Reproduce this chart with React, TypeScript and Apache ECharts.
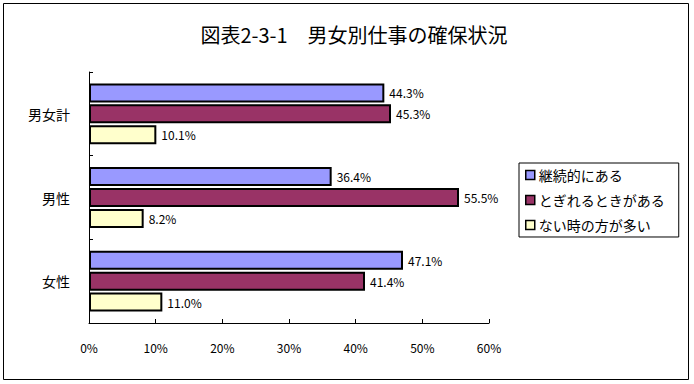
import React, { useEffect, useRef } from "react";
import * as echarts from "echarts";

const categories = ["男女計", "男性", "女性"];
const seriesNames = ["継続的にある", "とぎれるときがある", "ない時の方が多い"];
const continuous = [44.3, 36.4, 47.1];
const interrupted = [45.3, 55.5, 41.4];
const mostlyNone = [10.1, 8.2, 11.0];
const colors = ["#9999FF", "#993366", "#FFFFCC"];
const xTicks = [0, 10, 20, 30, 40, 50, 60];

const FONT = "'Noto Sans CJK JP', 'Noto Sans', sans-serif";

export default function App() {
  const ref = useRef<HTMLDivElement>(null);
  useEffect(() => {
    if (!ref.current) return;
    const chart = echarts.init(ref.current, undefined, { renderer: "svg" });
    const data = [continuous, interrupted, mostlyNone];
    chart.setOption({
      animation: false,
      backgroundColor: "#ffffff",
      textStyle: { fontFamily: FONT, color: "#000" },
      title: {
        text: "図表2-3-1　男女別仕事の確保状況",
        left: 349,
        top: 19,
        textAlign: "center",
        textStyle: { fontFamily: FONT, fontSize: 20, fontWeight: "normal", color: "#000" },
      },
      graphic: [
        {
          type: "rect",
          shape: { x: 3.5, y: 3.5, width: 685, height: 376 },
          style: { fill: "none", stroke: "#000", lineWidth: 1 },
          silent: true,
        },
      ],
      legend: {
        orient: "vertical",
        left: 519,
        top: 163,
        padding: [5, 14, 5, 6],
        itemGap: 11,
        itemWidth: 9,
        itemHeight: 9,
        borderColor: "#000",
        borderWidth: 1,
        backgroundColor: "#fff",
        data: seriesNames,
        icon: "rect",
        itemStyle: { borderColor: "#000", borderWidth: 1.5 },
        textStyle: { fontFamily: FONT, fontSize: 14, color: "#000", padding: [0, 0, 0, -1] },
      },
      grid: { left: 89, top: 72, right: 205, bottom: 61, containLabel: false },
      xAxis: {
        type: "value",
        min: xTicks[0],
        max: xTicks[xTicks.length - 1],
        interval: 10,
        axisLine: { show: true, lineStyle: { color: "#000", width: 1 } },
        axisTick: { show: true, inside: true, length: 4, lineStyle: { color: "#000" } },
        splitLine: { show: false },
        axisLabel: {
          formatter: (v: number) => `${v}%`,
          fontFamily: FONT,
          fontSize: 12,
          color: "#000",
          margin: 18,
        },
      },
      yAxis: {
        type: "category",
        data: categories,
        inverse: true,
        axisLine: { show: true, lineStyle: { color: "#000", width: 1 } },
        axisTick: { show: true, inside: true, length: 4, lineStyle: { color: "#000" } },
        axisLabel: { fontFamily: FONT, fontSize: 14, color: "#000", margin: 19 },
      },
      series: seriesNames.map((name, i) => ({
        name,
        type: "bar",
        data: data[i],
        barWidth: 19,
        barGap: "10%",
        itemStyle: { color: colors[i], borderColor: "#000", borderWidth: 2 },
        label: {
          show: true,
          position: "right",
          distance: 5,
          formatter: (p: any) => `${Number(p.value).toFixed(1)}%`,
          fontFamily: FONT,
          fontSize: 12,
          color: "#000",
        },
      })),
    });
    return () => chart.dispose();
  }, []);
  return (
    <div
      ref={ref}
      style={{ position: "absolute", left: 0, top: 0, width: 694, height: 384 }}
    />
  );
}
